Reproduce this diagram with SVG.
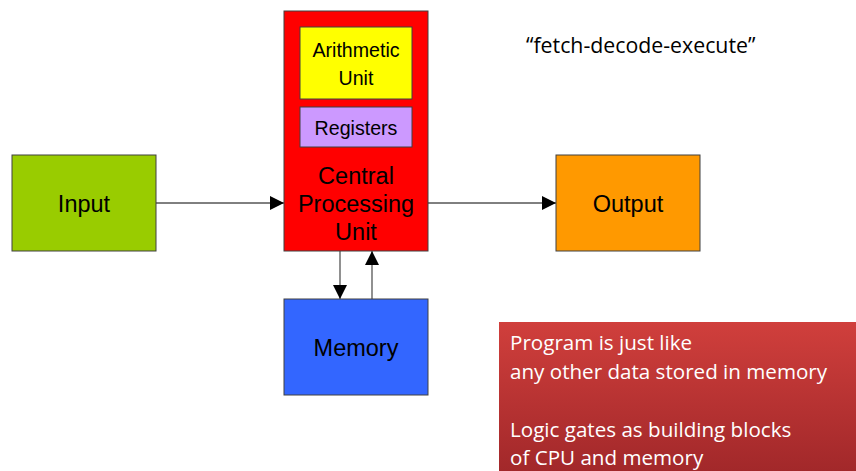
<svg xmlns="http://www.w3.org/2000/svg" width="856" height="471" viewBox="0 0 856 471">
  <style>
    .box { stroke: #404040; stroke-width: 1; }
    .lbl { font-family: "Liberation Sans", Arial, sans-serif; fill: #000; text-anchor: middle; }
    .conn { stroke: #000; stroke-width: 1; fill: none; }
    .vconn { stroke: #555; stroke-width: 1.3; fill: none; }
    .note { font-family: "Open Sans", "Noto Sans", sans-serif; font-size: 20.6px; fill: #fff; }
  </style>
  <defs>
    <marker id="arrow" viewBox="0 0 10 10" refX="10" refY="5" markerWidth="14" markerHeight="14" markerUnits="userSpaceOnUse" orient="auto">
      <path d="M0,0 L10,5 L0,10 z" fill="#000"/>
    </marker>
    <linearGradient id="noteFill" x1="0" y1="0" x2="0" y2="1">
      <stop offset="0" stop-color="#d03f3c"/>
      <stop offset="1" stop-color="#a2282a"/>
    </linearGradient>
  </defs>

  <rect width="856" height="471" fill="#fff"/>

  <g id="connectors">
    <line class="conn" x1="156" y1="203" x2="284" y2="203" marker-end="url(#arrow)"/>
    <line class="conn" x1="428" y1="203" x2="556" y2="203" marker-end="url(#arrow)"/>
    <line class="vconn" x1="340" y1="251" x2="340" y2="299" marker-end="url(#arrow)"/>
    <line class="vconn" x1="372" y1="299" x2="372" y2="251" marker-end="url(#arrow)"/>
  </g>

  <g id="input">
    <rect class="box" x="12" y="155" width="144" height="96" fill="#99cc00"/>
    <text class="lbl" x="84" y="212" font-size="23.5">Input</text>
  </g>

  <g id="cpu">
    <rect class="box" x="284" y="11" width="144" height="240" fill="#ff0000"/>
    <text class="lbl" x="356" y="184" font-size="23.5">Central</text>
    <text class="lbl" x="356" y="212" font-size="23.5">Processing</text>
    <text class="lbl" x="356" y="240" font-size="23.5">Unit</text>
  </g>

  <g id="arithmetic-unit">
    <rect class="box" x="300" y="27" width="112" height="72" fill="#ffff00"/>
    <text class="lbl" x="356" y="57" font-size="19.6">Arithmetic</text>
    <text class="lbl" x="356" y="85" font-size="19.6">Unit</text>
  </g>

  <g id="registers">
    <rect class="box" x="300" y="107" width="112" height="40" fill="#cc99ff"/>
    <text class="lbl" x="356" y="135" font-size="19.6">Registers</text>
  </g>

  <g id="output">
    <rect class="box" x="556" y="155" width="144" height="96" fill="#ff9900"/>
    <text class="lbl" x="628" y="212" font-size="23.5">Output</text>
  </g>

  <g id="memory">
    <rect class="box" x="284" y="299" width="144" height="96" fill="#3366ff"/>
    <text class="lbl" x="356" y="356" font-size="23.5">Memory</text>
  </g>

  <text x="526" y="53" font-family="'Open Sans', 'Noto Sans', sans-serif" font-size="21.3" fill="#000">“fetch-decode-execute”</text>

  <g id="note">
    <rect x="499" y="322" width="357" height="149" fill="url(#noteFill)"/>
    <text class="note" x="510" y="350">Program is just like</text>
    <text class="note" x="510" y="379">any other data stored in memory</text>
    <text class="note" x="510" y="437">Logic gates as building blocks</text>
    <text class="note" x="510" y="465">of CPU and memory</text>
  </g>
</svg>
